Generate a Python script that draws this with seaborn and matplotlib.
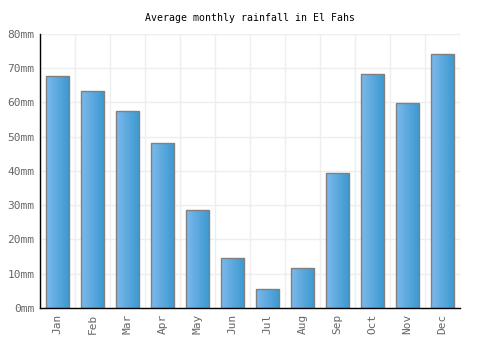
import numpy as np
import pandas as pd
import matplotlib
matplotlib.use("Agg")
import matplotlib.pyplot as plt
from matplotlib.colors import LinearSegmentedColormap
import seaborn as sns

months = ['Jan', 'Feb', 'Mar', 'Apr', 'May', 'Jun', 'Jul', 'Aug', 'Sep', 'Oct', 'Nov', 'Dec']
rainfall = [67.7, 63.3, 57.4, 48.2, 28.5, 14.5, 5.5, 11.6, 39.3, 68.2, 59.8, 74.2]
y_ticks = [0, 10, 20, 30, 40, 50, 60, 70, 80]
y_labels = [f"{v}mm" for v in y_ticks]

df = pd.DataFrame({'month': months, 'rain': rainfall})

sns.set_style("white")
plt.rcParams['font.family'] = ['DejaVu Sans Mono']

fig = plt.figure(figsize=(5, 3.5), dpi=100)
ax = fig.add_axes([0.08, 0.12, 0.84, 0.7829])

sns.barplot(data=df, x='month', y='rain', ax=ax, width=0.67,
            color='#4fa3dd', edgecolor='#808080', linewidth=1, zorder=3)

# horizontal gradient inside each bar
cmap = LinearSegmentedColormap.from_list('bar', ['#7cb9ec', '#3a98d0'])
grad = np.linspace(0, 1, 64).reshape(1, -1)
for p in ax.patches:
    x0, y0 = p.get_x(), p.get_y()
    w, h = p.get_width(), p.get_height()
    im = ax.imshow(grad, cmap=cmap, aspect='auto', extent=(x0, x0 + w, y0, y0 + h),
                   zorder=3.5, interpolation='bilinear')
    im.set_clip_path(p)
    p.set_facecolor('none')
    p.set_zorder(4)

ax.set_xlim(-0.5, 11.5)
ax.set_ylim(0, 80)
ax.set_yticks(y_ticks)
ax.set_yticklabels(y_labels, color='#666666', fontsize=8)
ax.set_xticks(range(len(months)))
ax.set_xticklabels(months, rotation=90, color='#666666', fontsize=8)
ax.set_xticks(np.arange(-0.5, 12, 1), minor=True)
ax.grid(False)
ax.grid(which='minor', axis='x', color='#eeeeee', linewidth=1, zorder=0)
ax.grid(which='major', axis='y', color='#eeeeee', linewidth=1, zorder=0)
ax.tick_params(axis='both', which='both', length=0, pad=4)
ax.set_xlabel('')
ax.set_ylabel('')

for side in ['top', 'right']:
    ax.spines[side].set_visible(False)
ax.spines['left'].set_color('black')
ax.spines['bottom'].set_color('black')
ax.spines['left'].set_linewidth(1)
ax.spines['bottom'].set_linewidth(1)
ax.spines['left'].set_zorder(5)
ax.spines['bottom'].set_zorder(5)

fig.text(0.5, 0.948, "Average monthly rainfall in El Fahs", ha='center', va='center',
         fontsize=7.1, color='black')

fig.savefig("out.png", dpi=100, facecolor='white')
